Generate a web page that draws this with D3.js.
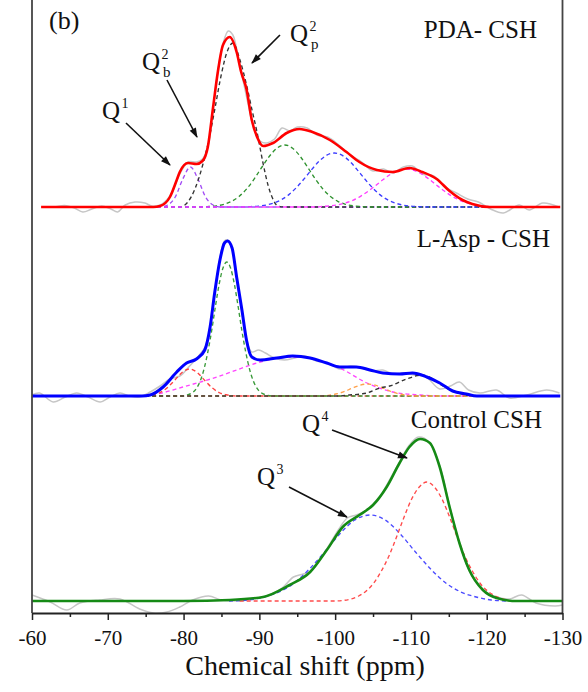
<!DOCTYPE html>
<html>
<head>
<meta charset="utf-8">
<script src="https://cdn.jsdelivr.net/npm/d3@7"></script>
<style>
  body { margin: 0; background: #fff; }
  svg { display: block; }
</style>
</head>
<body>
<div id="chart"></div>
<script>
// ---- Data: [chemical shift (ppm), intensity (a.u.)] ----

// PDA- CSH
var pdaRaw = [[-63.0,0],[-64.3,1.5],[-65.6,-1],[-66.7,-5],[-67.9,-2],[-69.2,1],[-70.4,-2],[-71.3,-5],[-72.3,2],[-73.6,5],[-74.9,4],[-75.8,1],[-76.9,2],[-78.2,11],[-79.5,33],[-80.6,45],[-81.7,45],[-82.5,48],[-83.2,60],[-83.9,98],[-84.5,135],[-85.2,163],[-85.9,176],[-86.5,172],[-87.2,150],[-87.9,125],[-88.6,100],[-89.3,78],[-90.1,66],[-91.0,64],[-92.0,68],[-93.0,79],[-94.0,76],[-95.0,80],[-96.3,79],[-97.6,72],[-99.0,70],[-100.5,62],[-102.0,52],[-103.5,45],[-105.0,36],[-106.4,38],[-107.6,34],[-109.0,40],[-110.2,41],[-111.5,33],[-113.0,31],[-114.5,20],[-116.0,14],[-117.5,8],[-118.9,5],[-120.5,-2],[-122.2,-6],[-124.3,2],[-125.6,-3],[-127.4,4],[-129.5,0]];
var pdaFit = [[-61.2,0],[-70,0],[-76,0],[-76.9,1],[-78.2,10],[-79.1,27],[-79.5,35],[-80.6,44],[-81.7,43],[-82.5,46],[-83.2,60],[-83.9,100],[-84.5,134],[-85.2,162],[-86.1,170],[-87.0,155],[-87.6,135],[-88.3,118],[-89.0,87],[-89.7,70],[-90.5,61],[-91.8,64],[-93.6,74],[-95.3,78],[-97.0,75],[-99.3,67],[-101.5,55],[-103.2,45],[-105.5,37],[-107.6,35],[-109.8,39],[-111.5,35],[-113.4,28],[-115.1,16],[-116.8,7],[-118.1,3],[-120.4,0],[-129.7,0]];
var pdaQ1 = [[-76.5,0],[-76.9,0],[-77.9,2],[-78.9,10],[-79.9,28],[-80.9,40],[-81.9,28],[-82.9,10],[-83.9,2],[-84.9,0],[-120.8,0]];
var pdaQ2p = [[-76.5,0],[-79.5,0],[-80.45,4],[-81.5,18],[-82.56,43],[-83.36,68],[-84.15,99],[-84.94,131],[-85.73,155],[-86.52,164],[-87.44,147],[-88.37,120],[-89.03,97],[-89.69,75],[-90.48,44],[-91.14,22],[-91.67,10],[-92.46,1],[-93.38,0],[-120.8,0]];
var pdaPeak3 = [[-76.5,0],[-82.35,0],[-83.35,0.5],[-84.35,1.2],[-85.35,2.7],[-86.35,5.7],[-87.35,10.7],[-88.35,18.3],[-89.35,28.4],[-90.35,40],[-91.35,51],[-92.35,59],[-93.35,62],[-94.35,59],[-95.35,51],[-96.35,40],[-97.35,28.4],[-98.35,18.3],[-99.35,10.7],[-100.35,5.7],[-101.35,2.7],[-102.35,1.2],[-103.35,0.5],[-104.5,0],[-120.8,0]];
var pdaPeak4 = [[-76.5,0],[-87.9,0],[-88.9,0.4],[-89.9,0.9],[-90.9,2],[-91.9,4],[-92.9,7.3],[-93.9,12.4],[-94.9,19.5],[-95.9,28.1],[-96.9,37.4],[-97.9,45.9],[-98.9,51.8],[-99.9,54],[-100.9,51.8],[-101.9,45.9],[-102.9,37.4],[-103.9,28.1],[-104.9,19.5],[-105.9,12.4],[-106.9,7.3],[-107.9,4],[-108.9,2],[-109.9,0.9],[-110.9,0.4],[-112,0],[-120.8,0]];
var pdaPeak5 = [[-76.5,0],[-97.4,0],[-98.4,0.6],[-99.4,1.2],[-100.4,2.3],[-101.4,4.1],[-102.4,6.9],[-103.4,10.9],[-104.4,16],[-105.4,21.8],[-106.4,27.8],[-107.4,33.1],[-108.4,36.7],[-109.4,38],[-110.4,36.7],[-111.4,33.1],[-112.4,27.8],[-113.4,21.8],[-114.4,16],[-115.4,10.9],[-116.4,6.9],[-117.4,4.1],[-118.4,2.3],[-119.4,1.2],[-120.8,0]];

// L-Asp - CSH
var aspRaw = [[-60,1],[-61.0,3],[-62.8,-6],[-64.4,-1],[-65.9,3],[-67.4,-1],[-69.0,-6],[-70.3,-1],[-71.6,3],[-72.9,0],[-74.2,-1],[-75.6,4],[-76.9,10],[-78.2,17],[-79.5,20],[-80.8,30],[-82.2,42],[-82.9,50],[-83.5,70],[-84.1,103],[-84.8,138],[-85.4,155],[-85.8,156],[-86.4,147],[-87.0,118],[-87.7,84],[-88.3,57],[-89.0,44],[-89.9,46],[-90.8,43],[-92.0,38],[-93.3,36],[-94.7,38],[-96.0,40],[-97.5,35],[-99.0,33],[-100.6,27],[-102.0,30],[-103.4,28],[-104.8,25],[-106.3,26],[-107.6,22],[-109.0,23],[-110.5,21],[-112.0,19],[-113.8,7],[-115.2,10],[-116.4,14],[-117.6,6],[-119.1,3],[-121.3,6],[-123.0,-2],[-125.3,1],[-127.9,6],[-129.6,3]];
var aspFit = [[-60,0],[-74.5,0],[-75.6,1],[-77.3,9],[-79.1,24],[-80.4,33],[-81.7,37],[-82.8,46],[-83.5,69],[-84.1,103],[-84.8,136],[-85.4,153],[-85.8,155],[-86.4,148],[-87.0,119],[-87.7,86],[-88.3,56],[-89.0,39],[-90.1,36],[-92.3,38],[-94.4,40],[-96.7,38],[-98.9,33],[-100.6,29],[-102.8,29],[-104.6,26],[-106.3,23],[-108.5,22],[-110.2,23],[-112.1,19],[-113.8,13],[-115.5,5],[-117.3,2],[-118.7,0],[-129.7,0]];
var aspPeak1 = [[-74,0],[-74.8,0],[-75.8,1],[-76.8,3],[-77.8,8],[-78.8,15.5],[-79.8,23.5],[-80.8,27],[-81.8,23.5],[-82.8,15.5],[-83.8,8],[-84.8,3],[-85.8,1],[-87,0],[-119.5,0]];
var aspPeak2 = [[-74,0],[-79.7,0],[-80.7,1.5],[-81.7,7.6],[-82.2,15],[-82.7,27],[-83.2,44],[-83.7,65],[-84.2,89.5],[-84.7,112],[-85.2,128],[-85.7,134],[-86.2,128],[-86.7,112],[-87.2,89.5],[-87.7,65],[-88.2,44],[-88.7,27],[-89.2,15],[-89.7,7.6],[-90.7,1.5],[-91.7,0],[-119.5,0]];
var aspPeak3 = [[-74,0],[-76.5,2],[-79.9,9],[-84.4,19],[-87.0,26],[-90.1,34],[-92.7,38],[-95.3,39],[-98.0,35],[-100.6,28],[-104.2,13],[-107.6,4],[-111.2,1],[-114,0],[-119.5,0]];
var aspPeak4 = [[-74,0],[-98.3,0],[-99.3,0.9],[-100.3,2.3],[-101.3,4.7],[-102.3,8],[-103.3,10.8],[-104.3,12],[-105.3,10.8],[-106.3,8],[-107.3,4.7],[-108.3,2.3],[-109.3,0.9],[-110.3,0],[-119.5,0]];
var aspPeak5 = [[-74,0],[-100.2,0],[-101.9,1],[-104.2,3],[-105.9,8],[-107.2,10],[-109.4,17],[-111.5,21],[-112.9,17],[-113.8,12],[-115.5,5],[-117.3,1],[-119.1,0],[-119.5,0]];

// Control CSH
var ctrlRaw = [[-60,6],[-62.4,-1],[-64.6,-9],[-66.3,-2],[-68.9,1],[-71.6,2],[-74.2,-8],[-76.0,-12],[-77.8,-11],[-79.5,-6],[-81.2,1],[-83.3,5],[-85.0,1],[-87.0,0],[-89.0,2],[-91.0,5],[-93.0,13],[-94.5,24],[-95.8,27],[-97.0,31],[-98.9,52],[-100.5,72],[-101.6,83],[-102.8,86],[-104.4,92],[-105.6,100],[-106.8,116],[-108.5,139],[-109.8,156],[-111.0,164],[-112.4,159],[-113.8,135],[-115.1,95],[-116.4,58],[-117.7,30],[-119.4,11],[-121.3,4],[-123.0,2],[-124.6,6],[-126.5,-2],[-129.0,-5],[-130,-4]];
var ctrlFit = [[-60,0],[-80,0],[-86.1,1],[-90.5,4],[-94.0,16],[-96.7,29],[-98.9,51],[-101.0,74],[-103.2,86],[-105.0,96],[-106.8,114],[-108.5,138],[-109.8,154],[-111.2,162],[-112.5,158],[-113.8,134],[-115.1,94],[-116.4,58],[-117.7,31],[-119.5,11],[-121.3,3],[-123.9,0],[-130,0]];
var ctrlQ3 = [[-86,0],[-88.6,1],[-90.6,4],[-92.6,9],[-94.6,18],[-96.6,32],[-98.6,49],[-100.6,67],[-102.6,81],[-104.6,86],[-106.6,81],[-108.6,67],[-110.6,49],[-112.6,32],[-114.6,18],[-116.6,9],[-118.6,4],[-120.6,1],[-122.6,0]];
var ctrlQ4 = [[-87.4,0],[-100,0],[-102.1,2],[-103.1,5],[-104.1,10],[-105.1,18],[-106.1,30],[-107.1,45],[-108.1,64],[-109.1,84],[-110.1,102],[-111.1,114],[-112.1,119],[-113.1,114],[-114.1,102],[-115.1,84],[-116.1,64],[-117.1,45],[-118.1,30],[-119.1,18],[-120.1,10],[-121.1,5],[-122.1,2],[-123,0]];

var majorTicks = [-60, -70, -80, -90, -100, -110, -120, -130];
var minorTicks = [-65, -75, -85, -95, -105, -115, -125];

// ---- Layout ----
var svgWidth = 588;
var svgHeight = 692;
var axisY = 613;
var serif = "'Liberation Serif', 'Times New Roman', serif";

var svg = d3.select("#chart")
  .append("svg")
  .attr("width", svgWidth)
  .attr("height", svgHeight)
  .style("font-family", serif);

var x = d3.scaleLinear().domain([-60, -130]).range([32, 562.5]);

var panels = [
  { base: 207, raw: pdaRaw, fit: pdaFit, fitColor: "#ff0000", fitWidth: 2.6,
    comps: [[pdaQ1, "#a24cf5"], [pdaQ2p, "#333333"], [pdaPeak3, "#2f922f"], [pdaPeak4, "#3c3cff"], [pdaPeak5, "#ff3cff"]] },
  { base: 396, raw: aspRaw, fit: aspFit, fitColor: "#0000ff", fitWidth: 3,
    comps: [[aspPeak3, "#ff45ff"], [aspPeak1, "#ff4040"], [aspPeak2, "#3a9a3a"], [aspPeak4, "#ffa04a"], [aspPeak5, "#333333"]] },
  { base: 601, raw: ctrlRaw, fit: ctrlFit, fitColor: "#158a15", fitWidth: 2.6,
    comps: [[ctrlQ3, "#4b4bff"], [ctrlQ4, "#ff4b4b"]] }
];

panels.forEach(function(p) {
  p.y = d3.scaleLinear().domain([0, 200]).range([p.base, p.base - 200]);
  var smooth = d3.line()
    .x(d => x(d[0]))
    .y(d => p.y(d[1]))
    .curve(d3.curveMonotoneX);
  var wiggle = d3.line()
    .x(d => x(d[0]))
    .y(d => p.y(d[1]))
    .curve(d3.curveCatmullRom.alpha(0.5));

  var g = svg.append("g");

  // measured spectrum
  g.append("path")
    .datum(p.raw)
    .attr("d", wiggle)
    .attr("fill", "none")
    .attr("stroke", "#c6c6c6")
    .attr("stroke-width", 1.5);

  // deconvoluted components
  p.comps.forEach(function(c) {
    g.append("path")
      .datum(c[0])
      .attr("d", smooth)
      .attr("fill", "none")
      .attr("stroke", c[1])
      .attr("stroke-width", 1.35)
      .attr("stroke-dasharray", "4,3");
  });

  // fitted envelope
  g.append("path")
    .datum(p.fit)
    .attr("d", smooth)
    .attr("fill", "none")
    .attr("stroke", p.fitColor)
    .attr("stroke-width", p.fitWidth)
    .attr("stroke-linejoin", "round");
});

// ---- Frame and axis ----
svg.append("line")
  .attr("x1", x(-60)).attr("x2", x(-60))
  .attr("y1", 0).attr("y2", axisY)
  .attr("stroke", "#444").attr("stroke-width", 1.8);
svg.append("line")
  .attr("x1", x(-130)).attr("x2", x(-130))
  .attr("y1", 0).attr("y2", axisY)
  .attr("stroke", "#444").attr("stroke-width", 1.8);

var minorAxis = svg.append("g")
  .attr("transform", `translate(0, ${axisY})`)
  .call(d3.axisBottom(x).tickValues(minorTicks).tickSize(4).tickSizeOuter(0).tickFormat(""));
minorAxis.select(".domain").remove();

var bottomAxis = svg.append("g")
  .attr("transform", `translate(0, ${axisY})`)
  .call(d3.axisBottom(x)
    .tickValues(majorTicks)
    .tickSize(7)
    .tickSizeOuter(0)
    .tickPadding(10)
    .tickFormat(d => String(d)));

bottomAxis.select(".domain").attr("stroke", "#222").attr("stroke-width", 1.8);
svg.selectAll(".tick line").attr("stroke", "#222").attr("stroke-width", 1.5);
bottomAxis.selectAll("text")
  .attr("font-family", serif)
  .attr("font-size", "21px")
  .attr("fill", "#111");

svg.append("text")
  .attr("x", 305)
  .attr("y", 675)
  .attr("text-anchor", "middle")
  .attr("font-size", "28px")
  .attr("fill", "#111")
  .text("Chemical shift (ppm)");

// ---- Panel labels ----
svg.append("text").attr("x", 49).attr("y", 29).attr("font-size", "26px").attr("fill", "#111").text("(b)");
svg.append("text").attr("x", 537).attr("y", 38).attr("text-anchor", "end").attr("font-size", "25px").attr("fill", "#111").text("PDA- CSH");
svg.append("text").attr("x", 550).attr("y", 247).attr("text-anchor", "end").attr("font-size", "25px").attr("fill", "#111").text("L-Asp - CSH");
svg.append("text").attr("x", 542).attr("y", 428).attr("text-anchor", "end").attr("font-size", "25px").attr("fill", "#111").text("Control CSH");

// ---- Peak annotations (data coordinates of each panel) ----
svg.append("defs").append("marker")
  .attr("id", "arrow")
  .attr("viewBox", "0 0 10 8")
  .attr("refX", 9).attr("refY", 4)
  .attr("markerWidth", 11).attr("markerHeight", 8)
  .attr("markerUnits", "userSpaceOnUse")
  .attr("orient", "auto")
  .append("path")
  .attr("d", "M0,0.5 L10,4 L0,7.5 Z")
  .attr("fill", "#111");

var notes = [
  { panel: 0, label: [-69.24, 88], sup: "1", sub: "", tail: [-72.4, 84], tip: [-78.21, 42] },
  { panel: 0, label: [-74.51, 137], sup: "2", sub: "b", tail: [-77.81, 127], tip: [-81.77, 70] },
  { panel: 0, label: [-94.04, 165], sup: "2", sub: "p", tail: [-92.72, 172], tip: [-89.03, 144] },
  { panel: 2, label: [-95.63, 169], sup: "4", sub: "", tail: [-99.59, 171], tip: [-109.48, 143] },
  { panel: 2, label: [-89.69, 116], sup: "3", sub: "", tail: [-93.91, 114], tip: [-101.56, 84] }
];

notes.forEach(function(n) {
  var py = panels[n.panel].y;
  svg.append("line")
    .attr("x1", x(n.tail[0])).attr("y1", py(n.tail[1]))
    .attr("x2", x(n.tip[0])).attr("y2", py(n.tip[1]))
    .attr("stroke", "#111")
    .attr("stroke-width", 1.6)
    .attr("marker-end", "url(#arrow)");

  var lx = x(n.label[0]);
  var ly = py(n.label[1]);
  svg.append("text").attr("x", lx).attr("y", ly).attr("font-size", "25px").attr("fill", "#111").text("Q");
  svg.append("text").attr("x", lx + 19.5).attr("y", ly - 11).attr("font-size", "14px").attr("fill", "#111").text(n.sup);
  if (n.sub) {
    svg.append("text").attr("x", lx + 21).attr("y", ly + 7).attr("font-size", "15px").attr("fill", "#111").text(n.sub);
  }
});
</script>
</body>
</html>
